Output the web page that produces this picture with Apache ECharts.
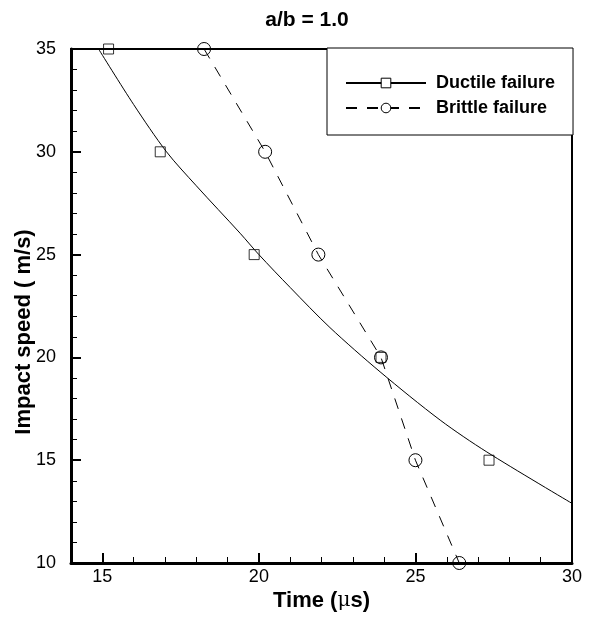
<!DOCTYPE html>
<html>
<head>
<meta charset="utf-8">
<script src="https://cdn.jsdelivr.net/npm/echarts@6/dist/echarts.min.js"></script>
<style>
    html, body { margin: 0; padding: 0; background: #fff; }
    #main { width: 589px; height: 620px; }
</style>
</head>
<body>
<div id="main"></div>
<script>
// measured points
const ductileTime = [15.2, 16.85, 19.85, 23.9, 27.35];
const ductileSpeed = [35, 30, 25, 20, 15];
const brittleTime = [18.25, 20.2, 21.9, 23.9, 25.0, 26.4];
const brittleSpeed = [35, 30, 25, 20, 15, 10];
// fitted curve for ductile failure
const fitTime = [14.88, 16, 17.05, 18, 19.4, 20.0, 21, 22.27, 23.87, 25.79, 27.28, 30];
const fitSpeed = [35, 32.3, 30, 28.35, 26.04, 25.0, 23.4, 21.45, 19.3, 16.95, 15.4, 12.9];
const majorTicksX = [15, 20, 25, 30];

const font = 'Arial, "Liberation Sans", sans-serif';
const black = '#000';

function pairs(xs, ys) {
    return xs.map((x, i) => [x, ys[i]]);
}

let chart = echarts.init(document.getElementById('main'), null, { renderer: 'canvas' });
chart.setOption({
    animation: false,
    backgroundColor: '#fff',
    title: {
        text: 'a/b = 1.0',
        left: 302,
        top: 5,
        textAlign: 'center',
        textStyle: { fontFamily: font, fontSize: 21, fontWeight: 'bold', color: black }
    },
    legend: {
        orient: 'vertical',
        left: 327,
        top: 48,
        padding: [26, 18, 18, 18],
        itemGap: 7,
        itemWidth: 80,
        itemHeight: 12,
        backgroundColor: '#fff',
        borderColor: black,
        borderWidth: 1,
        borderRadius: 0,
        textStyle: {
            fontFamily: font, fontSize: 18, fontWeight: 'bold', color: black,
            lineHeight: 18, padding: [0, 0, 0, 5]
        },
        data: [
            { name: 'Ductile failure', itemStyle: { color: '#fff', borderColor: black, borderWidth: 1 } },
            { name: 'Brittle failure', itemStyle: { color: '#fff', borderColor: black, borderWidth: 1 } }
        ]
    },
    grid: {
        left: 71, right: 17, top: 49, bottom: 57,
        containLabel: false,
        outerBoundsMode: 'none',
        show: true,
        borderColor: black,
        borderWidth: 2,
        backgroundColor: 'transparent'
    },
    xAxis: [{
        type: 'value',
        min: 14, max: 30, interval: 1,
        position: 'bottom',
        name: '{b|Time (}{m|μ}{b|s)}',
        nameLocation: 'middle',
        nameGap: 27,
        nameMoveOverlap: false,
        nameTextStyle: {
            rich: {
                b: { fontFamily: font, fontSize: 22, fontWeight: 'bold', color: black },
                m: { fontFamily: '"DejaVu Serif", serif', fontSize: 20, color: black }
            }
        },
        axisLine: { show: true, lineStyle: { color: black, width: 3 } },
        axisTick: { show: true, inside: true, length: 6, lineStyle: { color: black, width: 1 } },
        axisLabel: {
            margin: 5,
            fontFamily: font, fontSize: 18, color: black,
            formatter: v => (v % 5 === 0 ? String(v) : '')
        },
        splitLine: { show: false }
    }, {
        type: 'value',
        min: 14, max: 30,
        position: 'bottom',
        axisLine: { show: false },
        axisTick: { show: true, inside: true, length: 10, customValues: majorTicksX, lineStyle: { color: black, width: 2 } },
        axisLabel: { show: false },
        splitLine: { show: false }
    }],
    yAxis: {
        type: 'value',
        min: 10, max: 35, interval: 5,
        name: 'Impact speed ( m/s)',
        nameLocation: 'middle',
        nameGap: 36,
        nameMoveOverlap: false,
        nameTextStyle: {
            fontFamily: font, fontSize: 22, fontWeight: 'bold', color: black,
            padding: [0, 52, 0, 0]
        },
        axisLine: { show: true, lineStyle: { color: black, width: 3 } },
        axisTick: { show: true, inside: true, length: 10, lineStyle: { color: black, width: 2 } },
        minorTick: { show: true, splitNumber: 5, length: 6, lineStyle: { color: black, width: 1 } },
        axisLabel: { margin: 15, fontFamily: font, fontSize: 18, color: black },
        splitLine: { show: false },
        minorSplitLine: { show: false }
    },
    series: [{
        name: 'Ductile failure',
        type: 'line',
        data: pairs(fitTime, fitSpeed),
        smooth: 0.3,
        symbol: 'rect',
        showSymbol: false,
        color: black,
        lineStyle: { color: black, width: 1 },
        itemStyle: { color: '#fff', borderColor: black, borderWidth: 1 },
        z: 3
    }, {
        name: 'Ductile points',
        type: 'scatter',
        data: pairs(ductileTime, ductileSpeed),
        symbol: 'rect',
        symbolSize: 10,
        itemStyle: { color: 'transparent', borderColor: black, borderWidth: 1 },
        z: 4
    }, {
        name: 'Brittle failure',
        type: 'line',
        data: pairs(brittleTime, brittleSpeed),
        symbol: 'circle',
        symbolSize: 13,
        showSymbol: true,
        color: black,
        lineStyle: { color: black, width: 1, type: [11, 10] },
        itemStyle: { color: 'transparent', borderColor: black, borderWidth: 1 },
        z: 3
    }]
});
</script>
</body>
</html>
